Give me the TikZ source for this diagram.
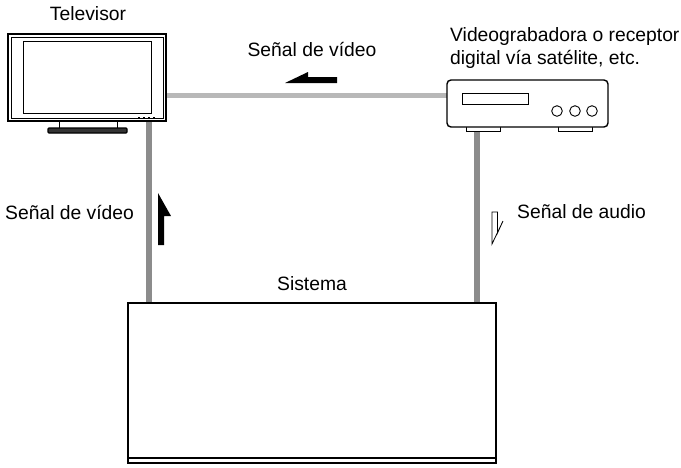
\documentclass[tikz,border=0pt]{standalone}
\usepackage{fontspec}
\setmainfont{Liberation Sans}
\begin{document}
\begin{tikzpicture}[x=1pt,y=-1pt,
  lbl/.style={inner sep=0pt,font=\fontsize{19.3}{22}\selectfont},
  cable/.style={line width=6pt,draw=black!45},
  hcable/.style={line width=5pt,draw=black!28},
  body/.style={draw=black,line width=1.4pt,fill=white}]
\useasboundingbox (0,0) rectangle (681,467);
% cables
\coordinate (tvr) at (166,95.5);
\coordinate (dvl) at (447,95.5);
\draw[hcable] (tvr) -- (dvl);
\coordinate (tvb) at (149,121);
\coordinate (sysl) at (149,303);
\draw[cable] (tvb) -- (sysl);
\coordinate (dvb) at (477,130);
\coordinate (sysr) at (477,303);
\draw[cable] (dvb) -- (sysr);
% TV
\node[lbl] (tvlabel) at (88,14) {Televisor};
\draw[line width=0.9pt,fill=white] (59,121) rectangle (117,129);
\draw[line width=1.3pt,fill=black!80,rounded corners=1pt] (48,128) rectangle (127,133);
\draw[body,line width=1.6pt] (8,34) rectangle (166,121);
\draw[line width=0.6pt] (11,37) rectangle (163,118);
\draw[line width=0.9pt] (23,41) rectangle (151,113);
\foreach \x in {138,143,148,153} \fill (\x,117) rectangle ++(2,1.5);
% device
\node[lbl,anchor=west] (dvlabel1) at (450,37) {Videograbadora o receptor};
\node[lbl,anchor=west] (dvlabel2) at (450,59) {digital vía satélite, etc.};
\draw[line width=1pt,fill=white] (466,124) rectangle (500,131);
\draw[line width=1pt,fill=white] (558,124) rectangle (592,131);
\draw[body,rounded corners=4pt] (447,80) rectangle (608,127);
\draw[line width=1pt] (462,93) rectangle (528,104);
\foreach \x in {557,575,592} \draw[line width=0.9pt] (\x,111) circle (5.3);
% system
\node[lbl] (syslabel) at (312,284) {Sistema};
\draw[line width=1.2pt,fill=white] (128,457) rectangle (496,463);
\draw[body] (128,303) rectangle (496,458);
% labels and arrows
\node[lbl] (topsig) at (312,49) {Señal de vídeo};
\fill (285,83) -- (308,72) -- (308,77) -- (337,77) -- (337,83) -- cycle;
\node[lbl,anchor=west] (leftsig) at (5,212) {Señal de vídeo};
\fill (158,193) -- (171,216) -- (164,216) -- (164,245) -- (158,245) -- cycle;
\node[lbl,anchor=west] (rightsig) at (517,212) {Señal de audio};
\draw[line width=0.8pt,fill=white] (492,212) -- (497.5,212) -- (497.5,233) -- (503,221) -- (492,244) -- cycle;
\end{tikzpicture}
\end{document}
